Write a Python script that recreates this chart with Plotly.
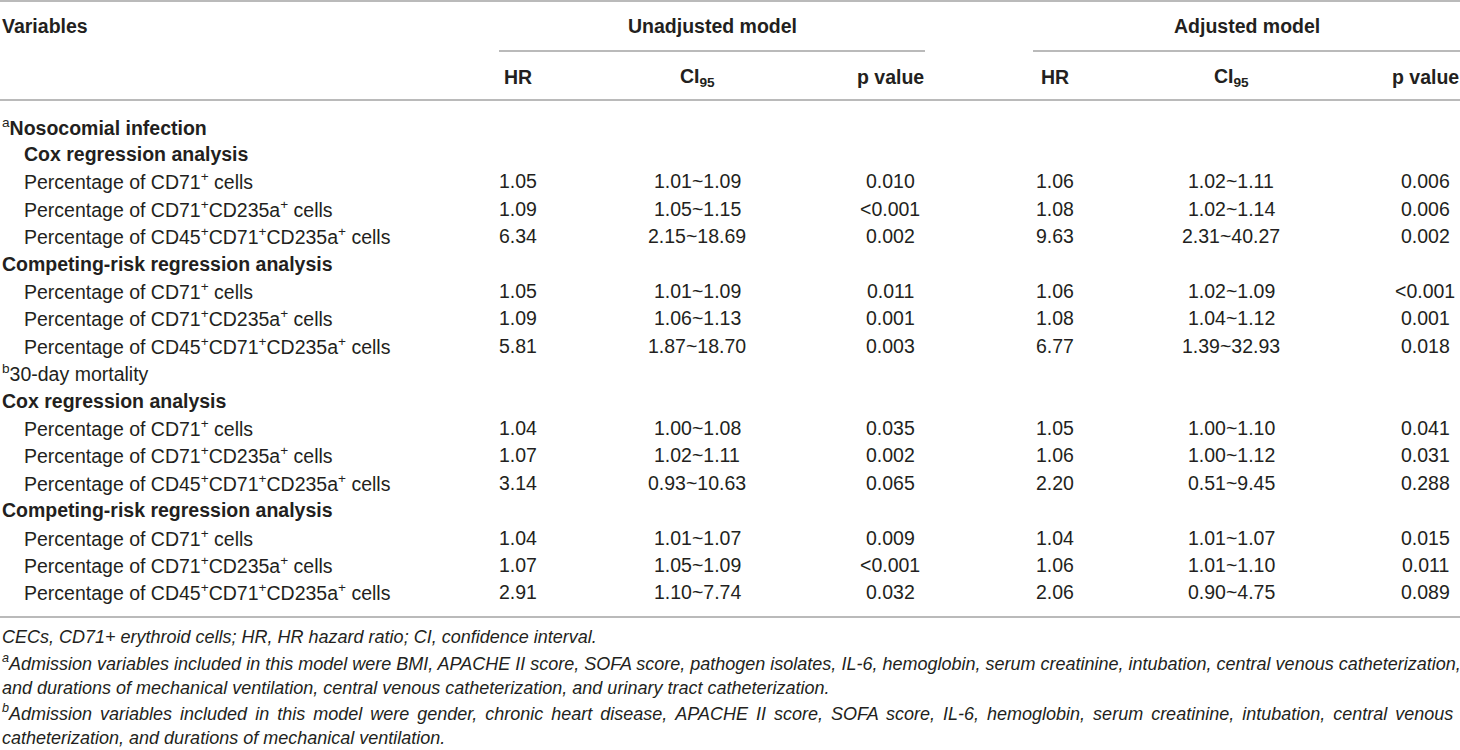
import plotly.graph_objects as go

# ---------------- data ----------------
row_labels = [
    "<sup>a</sup><b>Nosocomial infection</b>",
    "<b>Cox regression analysis</b>",
    "Percentage of CD71<sup>+</sup> cells",
    "Percentage of CD71<sup>+</sup>CD235a<sup>+</sup> cells",
    "Percentage of CD45<sup>+</sup>CD71<sup>+</sup>CD235a<sup>+</sup> cells",
    "<b>Competing-risk regression analysis</b>",
    "Percentage of CD71<sup>+</sup> cells",
    "Percentage of CD71<sup>+</sup>CD235a<sup>+</sup> cells",
    "Percentage of CD45<sup>+</sup>CD71<sup>+</sup>CD235a<sup>+</sup> cells",
    "<sup>b</sup>30-day mortality",
    "<b>Cox regression analysis</b>",
    "Percentage of CD71<sup>+</sup> cells",
    "Percentage of CD71<sup>+</sup>CD235a<sup>+</sup> cells",
    "Percentage of CD45<sup>+</sup>CD71<sup>+</sup>CD235a<sup>+</sup> cells",
    "<b>Competing-risk regression analysis</b>",
    "Percentage of CD71<sup>+</sup> cells",
    "Percentage of CD71<sup>+</sup>CD235a<sup>+</sup> cells",
    "Percentage of CD45<sup>+</sup>CD71<sup>+</sup>CD235a<sup>+</sup> cells",
]
row_indent = [0, 1, 1, 1, 1, 0, 1, 1, 1, 0, 0, 1, 1, 1, 0, 1, 1, 1]

hr_unadj = ["", "", "1.05", "1.09", "6.34", "", "1.05", "1.09", "5.81",
            "", "", "1.04", "1.07", "3.14", "", "1.04", "1.07", "2.91"]
ci_unadj = ["", "", "1.01~1.09", "1.05~1.15", "2.15~18.69", "", "1.01~1.09", "1.06~1.13", "1.87~18.70",
            "", "", "1.00~1.08", "1.02~1.11", "0.93~10.63", "", "1.01~1.07", "1.05~1.09", "1.10~7.74"]
p_unadj = ["", "", "0.010", "<0.001", "0.002", "", "0.011", "0.001", "0.003",
           "", "", "0.035", "0.002", "0.065", "", "0.009", "<0.001", "0.032"]
hr_adj = ["", "", "1.06", "1.08", "9.63", "", "1.06", "1.08", "6.77",
          "", "", "1.05", "1.06", "2.20", "", "1.04", "1.06", "2.06"]
ci_adj = ["", "", "1.02~1.11", "1.02~1.14", "2.31~40.27", "", "1.02~1.09", "1.04~1.12", "1.39~32.93",
          "", "", "1.00~1.10", "1.00~1.12", "0.51~9.45", "", "1.01~1.07", "1.01~1.10", "0.90~4.75"]
p_adj = ["", "", "0.006", "0.006", "0.002", "", "<0.001", "0.001", "0.018",
         "", "", "0.041", "0.031", "0.288", "", "0.015", "0.011", "0.089"]

group_headers = ["Unadjusted model", "Adjusted model"]
col_headers = ["HR", "CI<sub>95</sub>", "p value", "HR", "CI<sub>95</sub>", "p value"]

footnotes = [
    "CECs, CD71+ erythroid cells; HR, HR hazard ratio; CI, confidence interval.",
    "<sup>a</sup>Admission variables included in this model were BMI, APACHE II score, SOFA score, pathogen isolates, IL-6, hemoglobin, serum creatinine, intubation, central venous catheterization,",
    "and durations of mechanical ventilation, central venous catheterization, and urinary tract catheterization.",
    "<sup>b</sup>Admission variables included in this model were gender, chronic heart disease, APACHE II score, SOFA score, IL-6, hemoglobin, serum creatinine, intubation, central venous",
    "catheterization, and durations of mechanical ventilation.",
]
justified = [False, False, False, True, False]

# ---------------- layout / style ----------------
W, H = 1460, 750
FONT = "Liberation Sans, Arial, Helvetica, sans-serif"
TXT = "#231f20"
LINE = "#a3a3a3"
FS = 19.5
FS_NOTE = 18

col_x = [518, 697, 890, 1055, 1231, 1425]
group_x = [712, 1247]
group_line = [(499, 925), (1033, 1460)]
ROW0, ROWH = 126.5, 27.4
INDENT = 22
NOTE0, NOTEH = 637, 25.3

fig = go.Figure()
fig.add_trace(go.Scatter(x=[0, W], y=[0, H], mode="markers",
                         marker=dict(opacity=0), hoverinfo="skip", showlegend=False))

ann = []

def add(text, x, y, anchor="center", size=FS, italic=False):
    t = "<i>" + text + "</i>" if italic else text
    ann.append(dict(x=x, y=y, xref="x", yref="y", text=t, showarrow=False,
                    xanchor=anchor, yanchor="middle", align="left" if anchor == "left" else "center",
                    font=dict(family=FONT, size=size, color=TXT)))

# header
add("<b>Variables</b>", 0, 26, "left")
for gx, g in zip(group_x, group_headers):
    add("<b>" + g + "</b>", gx, 26)
for cx, c in zip(col_x, col_headers):
    add("<b>" + c + "</b>", cx, 77)

# body
cols = [hr_unadj, ci_unadj, p_unadj, hr_adj, ci_adj, p_adj]
for i, lab in enumerate(row_labels):
    y = ROW0 + ROWH * i
    add(lab, INDENT * row_indent[i], y, "left")
    for cx, col in zip(col_x, cols):
        if col[i]:
            add(col[i], cx, y)

# footnotes (justified lines get slightly wider word gaps)
for j, note in enumerate(footnotes):
    txt = note.replace(" ", " \u2006") if justified[j] else note
    add(txt, 0, NOTE0 + NOTEH * j, "left", size=FS_NOTE, italic=True)

shapes = []
for yy in (1, 100, 617):
    shapes.append(dict(type="line", x0=0, x1=W, y0=yy, y1=yy, line=dict(color=LINE, width=1.5)))
for a, b in group_line:
    shapes.append(dict(type="line", x0=a, x1=b, y0=51, y1=51, line=dict(color=LINE, width=1.5)))
for s in shapes:
    s.update(xref="x", yref="y")

fig.update_layout(
    width=W, height=H, margin=dict(l=0, r=0, t=0, b=0),
    paper_bgcolor="white", plot_bgcolor="white",
    xaxis=dict(range=[0, W], visible=False, fixedrange=True),
    yaxis=dict(range=[H, 0], visible=False, fixedrange=True),
    annotations=ann, shapes=shapes, showlegend=False,
)

fig.write_html("out.html", config={"displayModeBar": False},
               post_script="document.body.style.margin='0px';document.body.style.overflow='hidden';")
